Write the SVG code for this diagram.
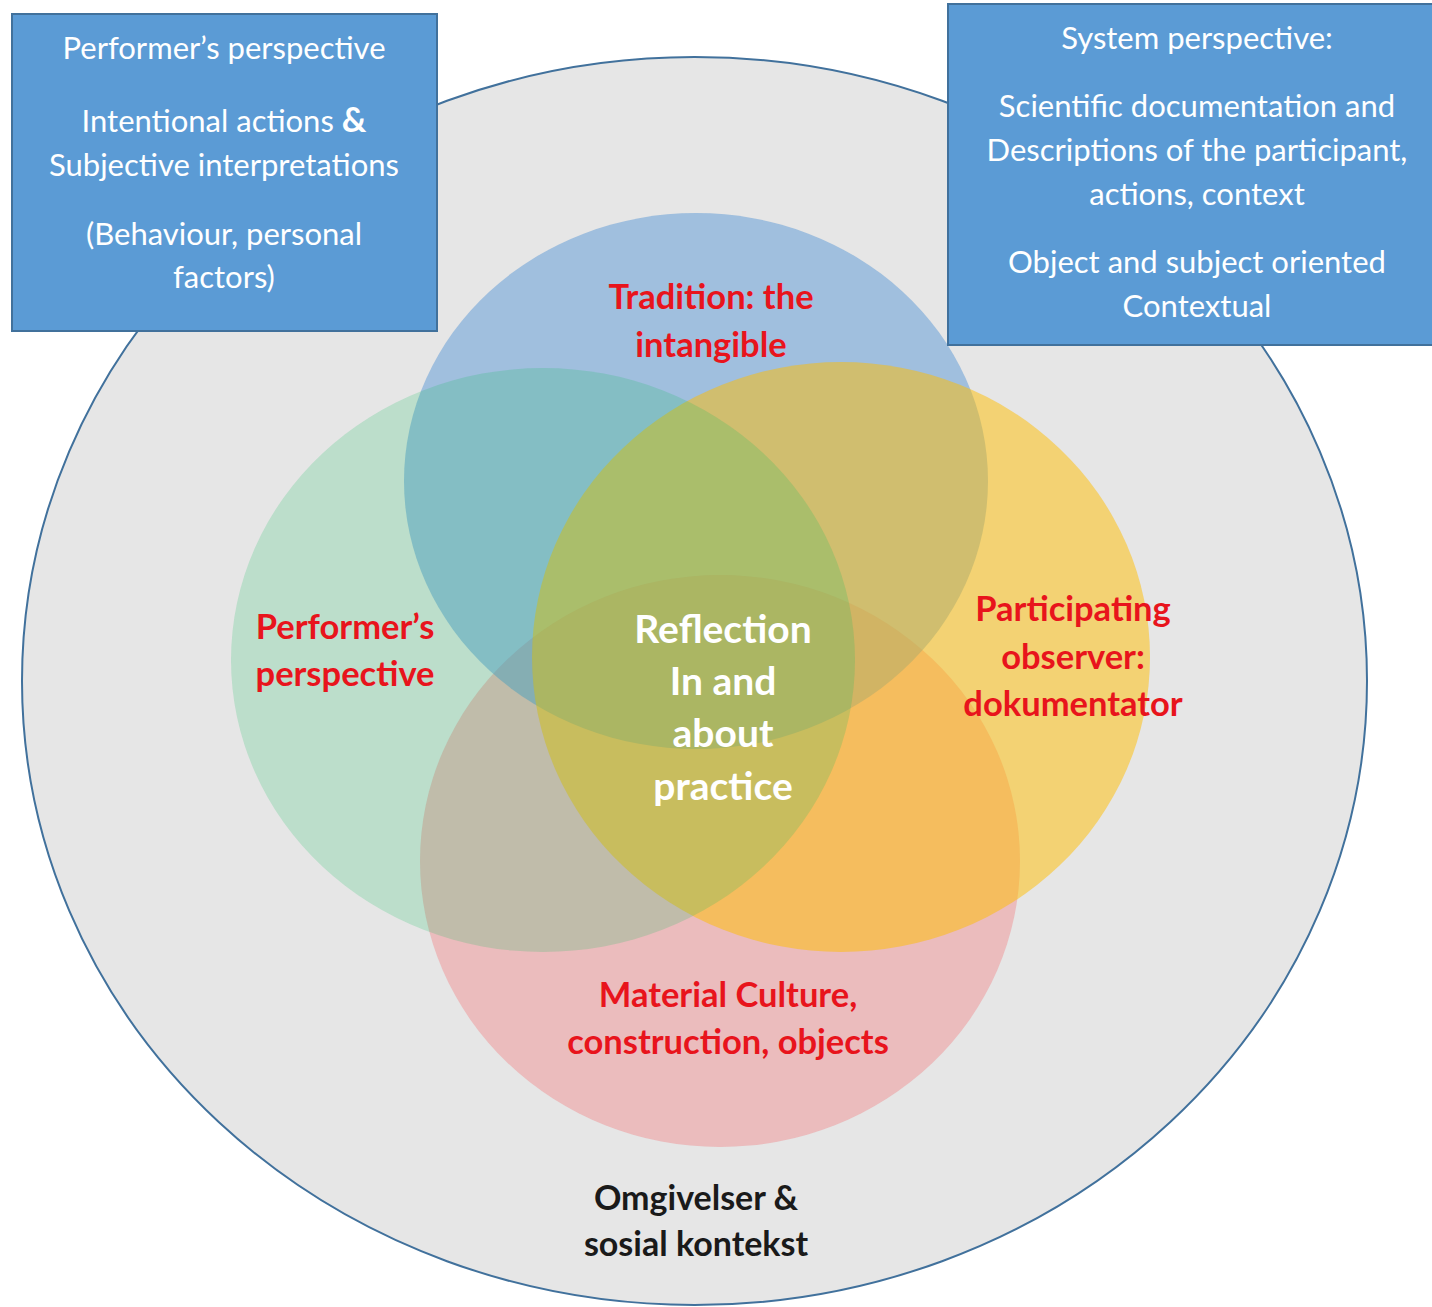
<svg xmlns="http://www.w3.org/2000/svg" width="1432" height="1307" viewBox="0 0 1432 1307">
<style>
.box{fill:#5b9bd5;stroke:#41719c;stroke-width:2}
.bt{font-family:Lato,"Liberation Sans",sans-serif;font-size:31px;fill:#ffffff;text-anchor:middle}
.rt{font-family:Lato,"Liberation Sans",sans-serif;font-size:34.5px;font-weight:bold;fill:#e8141c;text-anchor:middle}
.wt{font-family:Lato,"Liberation Sans",sans-serif;font-size:39px;font-weight:bold;fill:#ffffff;text-anchor:middle}
.kt{font-family:Lato,"Liberation Sans",sans-serif;font-size:34px;font-weight:bold;fill:#1a1a1a;text-anchor:middle}
</style>
<rect width="1432" height="1307" fill="#ffffff"/>
<g id="context">
<ellipse cx="694.5" cy="681" rx="672.5" ry="624" fill="#e6e6e6" stroke="#41719c" stroke-width="2"/>
<text class="kt" x="696" y="1210">Omgivelser &amp;</text>
<text class="kt" x="696" y="1256">sosial kontekst</text>
</g>
<g id="circles">
<g id="material"><ellipse cx="720" cy="861" rx="300" ry="286" fill="#f09294" opacity="0.5"/></g>
<g id="tradition"><ellipse cx="696" cy="481" rx="292" ry="268" fill="#5a98d6" opacity="0.5"/></g>
<g id="observer"><ellipse cx="841" cy="657" rx="309" ry="295" fill="#ffbe00" opacity="0.5"/></g>
<g id="performer"><ellipse cx="543" cy="660" rx="312" ry="292" fill="#14be5f" opacity="0.2"/></g>
</g>
<g id="labels">
<text class="rt" x="711" y="309">Tradition: the</text>
<text class="rt" x="711" y="357">intangible</text>
<text class="rt" x="345" y="639">Performer’s</text>
<text class="rt" x="345" y="686">perspective</text>
<text class="rt" x="1073" y="621">Participating</text>
<text class="rt" x="1073" y="669">observer:</text>
<text class="rt" x="1073" y="716">dokumentator</text>
<text class="rt" x="728" y="1007">Material Culture,</text>
<text class="rt" x="728" y="1054">construction, objects</text>
<text class="wt" x="723" y="643">Reflection</text>
<text class="wt" x="723" y="695">In and</text>
<text class="wt" x="723" y="747">about</text>
<text class="wt" x="723" y="800">practice</text>
</g>
<g id="box-performer">
<rect class="box" x="12" y="14" width="425" height="317"/>
<text class="bt" x="224" y="59">Performer’s perspective</text>
<text class="bt" x="224" y="132">Intentional actions <tspan font-weight="bold" font-size="34">&amp;</tspan></text>
<text class="bt" x="224" y="176">Subjective interpretations</text>
<text class="bt" x="224" y="245">(Behaviour, personal</text>
<text class="bt" x="224" y="288">factors)</text>
</g>
<g id="box-system">
<rect class="box" x="948" y="4" width="486" height="341"/>
<text class="bt" x="1197" y="49">System perspective:</text>
<text class="bt" x="1197" y="117">Scientific documentation and</text>
<text class="bt" x="1197" y="161">Descriptions of the participant,</text>
<text class="bt" x="1197" y="205">actions, context</text>
<text class="bt" x="1197" y="273">Object and subject oriented</text>
<text class="bt" x="1197" y="317">Contextual</text>
</g>
</svg>
